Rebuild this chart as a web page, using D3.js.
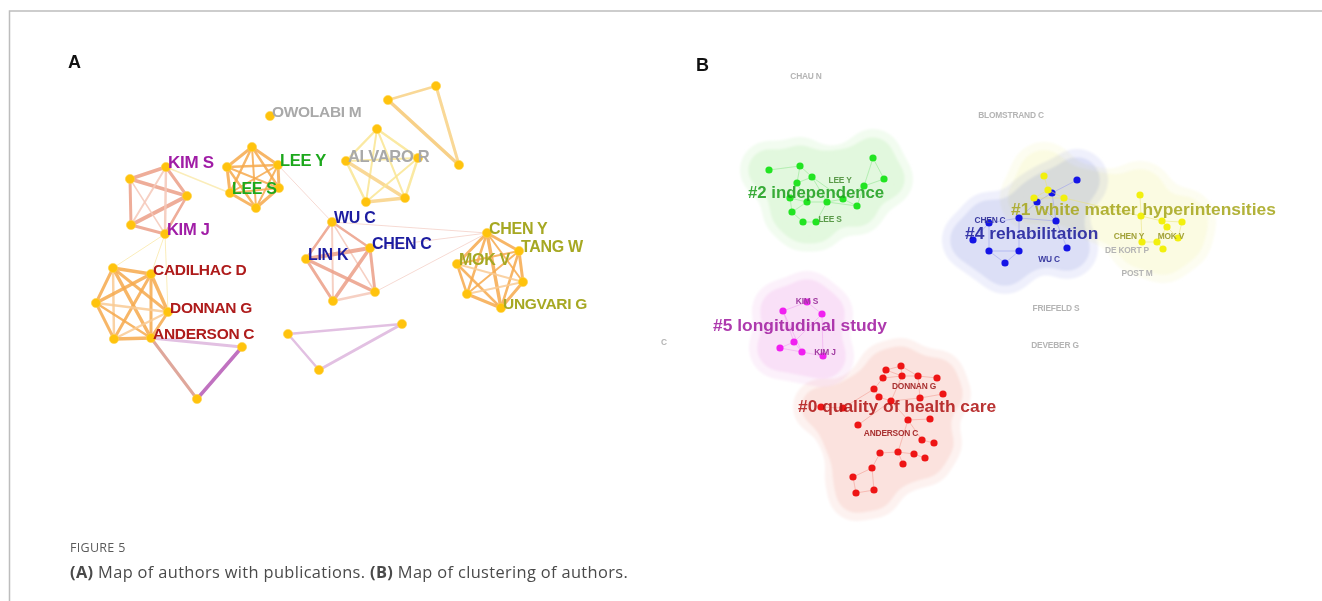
<!DOCTYPE html>
<html>
<head>
<meta charset="utf-8">
<script src="https://cdn.jsdelivr.net/npm/d3@7"></script>
<style>
  html, body { margin: 0; padding: 0; background: #fff; }
  svg { display: block; }
</style>
</head>
<body>
<svg id="chart" width="1322" height="601"></svg>
<script>
// ---------- Panel A: co-authorship network ----------
// node: [id, layoutX, layoutY, label, labelColorKey, fontSize]
const nodesA = [
  ["k1", 86, 87, "KIM S", "purple", 17], ["k2", 50, 99], ["k3", 107, 116], ["k4", 51, 145],
  ["k5", 85, 154, "KIM J", "purple", 16.5],
  ["l1", 172, 67], ["l2", 147, 87], ["l3", 198, 85, "LEE Y", "green", 16.5],
  ["l4", 150, 113, "LEE S", "green", 16], ["l5", 199, 108], ["l6", 176, 128],
  ["o1", 190, 36, "OWOLABI M", "gray", 15.5],
  ["a1", 297, 49], ["a2", 266, 81, "ALVARO R", "gray", 16.5], ["a3", 338, 78],
  ["a4", 286, 122], ["a5", 325, 118],
  ["t1", 308, 20], ["t2", 356, 6], ["t3", 379, 85],
  ["w1", 252, 142, "WU C", "blue", 16], ["w2", 290, 168, "CHEN C", "blue", 16],
  ["w3", 226, 179, "LIN K", "blue", 16], ["w4", 295, 212], ["w5", 253, 221],
  ["c1", 407, 153, "CHEN Y", "olive", 16], ["c2", 439, 171, "TANG W", "olive", 16],
  ["c3", 377, 184, "MOK V", "olive", 16], ["c4", 443, 202], ["c5", 387, 214],
  ["c6", 421, 228, "UNGVARI G", "olive", 15.5],
  ["d1", 33, 188], ["d2", 71, 194, "CADILHAC D", "red", 15.5], ["d3", 16, 223],
  ["d4", 88, 232, "DONNAN G", "red", 15.5], ["d5", 34, 259],
  ["d6", 71, 258, "ANDERSON C", "red", 15.5],
  ["p1", 162, 267], ["p2", 117, 319],
  ["q1", 208, 254], ["q2", 322, 244], ["q3", 239, 290]
];

// edge: [source, target, width, colorKey]
const edgesA = [
  ["k1","k2",3.5,"S"],["k1","k3",3,"S"],["k2","k3",3.5,"S"],["k2","k4",3,"S"],["k4","k3",4,"S"],
  ["k4","k5",3,"S"],["k3","k5",2.5,"S"],["k1","k5",2.5,"SL"],["k1","k4",2,"SL"],["k2","k5",1.5,"SL"],
  ["l1","l2",3,"O"],["l1","l3",3,"O"],["l1","l4",2.5,"O"],["l1","l5",2.5,"O"],["l1","l6",2,"O"],
  ["l2","l3",2.5,"O"],["l2","l4",3,"O"],["l2","l5",2,"O"],["l2","l6",2.5,"O"],["l3","l4",2,"O"],
  ["l3","l5",3,"O"],["l3","l6",2,"O"],["l4","l5",2,"O"],["l4","l6",3,"O"],["l5","l6",3,"O"],
  ["a1","a2",2.5,"Y"],["a1","a3",2.5,"Y"],["a1","a4",2,"Y"],["a1","a5",2,"Y"],["a2","a3",2,"Y"],
  ["a2","a4",2.5,"Y"],["a2","a5",3.5,"T"],["a3","a4",2,"Y"],["a3","a5",2.5,"Y"],["a4","a5",3.5,"T"],
  ["t1","t2",2.5,"T"],["t2","t3",3,"T"],["t1","t3",3.5,"TD"],
  ["w1","w2",2.5,"S"],["w1","w3",2.5,"S"],["w1","w4",1.5,"SL"],["w1","w5",2,"SL"],["w2","w3",4,"S"],
  ["w2","w4",3,"S"],["w2","w5",3.5,"S"],["w3","w4",3.5,"S"],["w3","w5",3,"S"],["w4","w5",2.5,"SL"],
  ["c1","c2",3,"O"],["c1","c3",3,"O"],["c1","c4",2,"O"],["c1","c5",2.5,"O"],["c1","c6",3.5,"O"],
  ["c2","c3",2,"O"],["c2","c4",3,"O"],["c2","c5",2,"O"],["c2","c6",2.5,"O"],["c3","c4",2,"OL"],
  ["c3","c5",2.5,"O"],["c3","c6",2.5,"O"],["c4","c5",2,"OL"],["c4","c6",3,"O"],["c5","c6",3,"O"],
  ["d1","d2",3.5,"O"],["d1","d3",3,"O"],["d1","d4",3,"O"],["d1","d5",2.5,"OL"],["d1","d6",3.5,"O"],
  ["d2","d3",3.5,"O"],["d2","d4",3.5,"O"],["d2","d5",3,"O"],["d2","d6",3,"O"],["d3","d4",2.5,"OL"],
  ["d3","d5",3,"O"],["d3","d6",2.5,"O"],["d4","d5",2.5,"OL"],["d4","d6",3,"O"],["d5","d6",3.5,"O"],
  ["d6","p1",3,"PL"],["d6","p2",3,"B"],["p1","p2",3.5,"P"],
  ["q1","q2",2.5,"PL"],["q1","q3",2.5,"PL"],["q3","q2",3,"PL"],
  ["l3","w1",1,"PK"],["w1","c1",1,"PK"],["w2","c1",1,"PK"],["w4","c1",1,"PK"],
  ["k1","l4",1.5,"YT"],["k5","d1",1,"YT"],["k5","d2",1,"YT"],["k5","d4",1,"YT"]
];

const edgeColors = {
  S: "#ec9f88", SL: "#f5c8b9", O: "#f6aa4e", OL: "#f9cb94", Y: "#fae693", T: "#f8d285",
  TD: "#f6c874", P: "#b65ab6", PL: "#ddb6dd", B: "#da988a", PK: "#f5d4cc", YT: "#faeaae"
};
const labelColors = {
  purple: "#a01ea6", green: "#1ea81e", gray: "#a9a9a9", blue: "#1c1ca0",
  olive: "#a6a824", red: "#ae1a1a"
};

// ---------- Panel B: cluster map ----------
const greenNodes = [[129,130],[160,126],[172,137],[157,143],[233,118],[244,139],[224,146],[203,159],
  [187,162],[167,162],[150,158],[217,166],[152,172],[163,182],[176,182]];
const greenEdges = [[0,1],[1,2],[2,3],[3,10],[4,5],[4,6],[5,6],[6,7],[7,8],[8,9],[9,10],[2,8],[2,7],
  [3,9],[9,12],[12,13],[13,14],[14,8],[11,7],[11,6],[10,12],[8,11],[1,3]];

const blueNodes = [[437,140],[412,153],[397,162],[379,178],[416,181],[349,183],[333,200],[349,211],
  [379,211],[365,223],[427,208]];
const blueEdges = [[0,1],[1,2],[2,3],[1,4],[3,5],[5,6],[5,7],[7,8],[7,9],[8,9],[3,8],[4,10],[3,4],[2,4]];

const yellowNodes = [[404,136],[408,150],[424,158],[394,158],[500,155],[501,176],[522,181],[542,182],
  [527,187],[517,202],[502,202],[523,209],[538,198]];
const yellowEdges = [[0,1],[1,2],[1,3],[2,3],[4,5],[5,6],[6,7],[6,8],[8,9],[9,10],[9,11],[8,12],[5,10],
  [7,12],[2,5]];

const magentaNodes = [[167,262],[143,271],[182,274],[154,302],[140,308],[162,312],[183,316]];
const magentaEdges = [[0,1],[0,2],[1,3],[2,3],[3,4],[3,5],[5,6],[2,6],[1,5],[4,5]];

const redNodes = [[246,330],[261,326],[243,338],[262,336],[278,336],[297,338],[234,349],[239,357],
  [251,361],[280,358],[303,354],[268,380],[290,379],[218,385],[282,400],[294,403],[240,413],[258,412],
  [274,414],[285,418],[263,424],[232,428],[213,437],[216,453],[234,450],[181,367],[203,368]];
const redEdges = [[0,1],[0,2],[1,3],[2,3],[3,4],[4,5],[2,6],[6,7],[7,8],[8,9],[9,10],[4,9],[8,11],
  [11,12],[11,14],[14,15],[11,17],[17,16],[17,18],[18,19],[17,20],[16,21],[21,22],[22,23],[23,24],
  [21,24],[6,26],[26,25],[13,8],[3,8],[1,4],[0,3]];

const clustersB = [
  { name: "#0 quality of health care", nodes: redNodes, edges: redEdges, node: "#ee1515", pad: 21,
    hull: "#fbe2de", halo: "#fdf2f0", edge: "#f29a90", text: "#b01515", lx: 158, ly: 372, fs: 17.4 },
  { name: "#2 independence", nodes: greenNodes, edges: greenEdges, node: "#22e422", pad: 22,
    hull: "#e2f8de", halo: "#f2fcf0", edge: "#8ee68e", text: "#20a020", lx: 108, ly: 158, fs: 16.8 },
  { name: "#5 longitudinal study", nodes: magentaNodes, edges: magentaEdges, node: "#f020f0", pad: 24,
    hull: "#f9e0f7", halo: "#fcf1fb", edge: "#f0a0f0", text: "#a21ea2", lx: 73, ly: 291, fs: 17.4 },
  { name: "#4 rehabilitation", nodes: blueNodes, edges: blueEdges, node: "#1515e6", pad: 24,
    hull: "#dcdff6", halo: "#eff0fc", edge: "#9a9ef0", text: "#1c1c9c", lx: 325, ly: 199, fs: 17.4 },
  { name: "#1 white matter hyperintensities", nodes: yellowNodes, edges: yellowEdges, node: "#f2f00e", pad: 27,
    hull: "#fbfbe2", halo: "#fdfdf1", edge: "#e8e27a", text: "#a8a820", lx: 371, ly: 175, fs: 17.4 }
];

// small author labels: [text, layoutX (centre), layoutY (baseline), colour]
const authorLabelsB = [
  ["CHAU N", 166, 39, "#b4b4b4"], ["BLOMSTRAND C", 371, 78, "#b4b4b4"],
  ["FRIEFELD S", 416, 271, "#b4b4b4"], ["DEVEBER G", 415, 308, "#b4b4b4"],
  ["C", 24, 305, "#b4b4b4"], ["DE KORT P", 487, 213, "#b4b4b4"], ["POST M", 497, 236, "#b4b4b4"],
  ["LEE Y", 200, 143, "#5a9a4a"], ["LEE S", 190, 182, "#5a9a4a"],
  ["CHEN C", 350, 183, "#3a3aa0"], ["WU C", 409, 222, "#3a3aa0"],
  ["CHEN Y", 489, 199, "#a2a23a"], ["MOK V", 531, 199, "#a2a23a"],
  ["KIM S", 167, 264, "#a03aa0"], ["KIM J", 185, 315, "#a03aa0"],
  ["DONNAN G", 274, 349, "#a83030"], ["ANDERSON C", 251, 396, "#a83030"]
];

const panelLetters = [["A", 68, 68], ["B", 696, 71]];
const captionTitle = "FIGURE 5";
const captionParts = [["(A)", true], [" Map of authors with publications. ", false], ["(B)", true],
  [" Map of clustering of authors.", false]];

// ---------- drawing ----------
const svg = d3.select("#chart");
const defs = svg.append("defs");
// "goo" filter: blur then sharpen alpha so the member discs merge into smooth blobs
const goo = defs.append("filter").attr("id", "goo").attr("x", "-30%").attr("y", "-30%")
  .attr("width", "160%").attr("height", "160%");
goo.append("feGaussianBlur").attr("in", "SourceGraphic").attr("stdDeviation", 8).attr("result", "b");
goo.append("feColorMatrix").attr("in", "b").attr("type", "matrix")
  .attr("values", "1 0 0 0 0  0 1 0 0 0  0 0 1 0 0  0 0 0 14 -6.5").attr("result", "g");
goo.append("feGaussianBlur").attr("in", "g").attr("stdDeviation", 1.3);
defs.append("filter").attr("id", "softText").append("feGaussianBlur").attr("stdDeviation", 0.45);
defs.append("filter").attr("id", "softA").append("feGaussianBlur").attr("stdDeviation", 0.3);

svg.append("rect").attr("width", 1322).attr("height", 601).attr("fill", "#fff");

// page frame
svg.append("path").attr("d", d3.line()([[9.5, 601], [9.5, 11], [1322, 11]]))
  .attr("fill", "none").attr("stroke", "#bdbdbd").attr("stroke-width", 1.5);

// Panel A scales (layout units -> pixels)
const xA = d3.scaleLinear().domain([0, 460]).range([80, 540]);
const yA = d3.scaleLinear().domain([0, 320]).range([80, 400]);
const nodeById = new Map(nodesA.map(n => [n[0], n]));

const gA = svg.append("g").attr("filter", "url(#softA)");
gA.append("g").selectAll("line").data(edgesA).join("line")
  .attr("x1", d => xA(nodeById.get(d[0])[1])).attr("y1", d => yA(nodeById.get(d[0])[2]))
  .attr("x2", d => xA(nodeById.get(d[1])[1])).attr("y2", d => yA(nodeById.get(d[1])[2]))
  .attr("stroke", d => edgeColors[d[3]]).attr("stroke-width", d => d[2])
  .attr("stroke-linecap", "round").attr("opacity", 0.85);

gA.append("g").selectAll("circle").data(nodesA).join("circle")
  .attr("cx", d => xA(d[1])).attr("cy", d => yA(d[2])).attr("r", 4.6)
  .attr("fill", "#ffc30f").attr("stroke", "#ffd34a").attr("stroke-width", 0.6);

gA.append("g").selectAll("text").data(nodesA.filter(n => n[3])).join("text")
  .attr("x", d => xA(d[1]) + 2).attr("y", d => yA(d[2]) + 1)
  .attr("font-family", "Liberation Sans, Arial, sans-serif").attr("font-weight", "bold")
  .attr("font-size", d => d[5]).attr("fill", d => labelColors[d[4]])
  .attr("letter-spacing", -0.3).text(d => d[3]);

// Panel B scales
const xB = d3.scaleLinear().domain([0, 640]).range([640, 1280]);
const yB = d3.scaleLinear().domain([0, 480]).range([40, 520]);

// cluster areas: member discs, thick links and the hull body merged into a blob,
// with a paler halo; each cluster is multiplied so overlaps darken slightly
const hullLayer = svg.append("g");
clustersB.forEach(c => {
  const g = hullLayer.append("g").style("mix-blend-mode", "multiply");
  const pts = c.nodes.map(p => [xB(p[0]), yB(p[1])]);
  const hullPath = d3.line().curve(d3.curveLinearClosed)(d3.polygonHull(pts));
  [[c.pad + 8, c.halo], [c.pad, c.hull]].forEach(([r, col]) => {
    const blob = g.append("g").attr("filter", "url(#goo)");
    blob.append("path").attr("d", hullPath)
      .attr("fill", col).attr("stroke", col).attr("stroke-width", r * 1.1)
      .attr("stroke-linejoin", "round");
    blob.selectAll("line").data(c.edges).join("line")
      .attr("x1", e => pts[e[0]][0]).attr("y1", e => pts[e[0]][1])
      .attr("x2", e => pts[e[1]][0]).attr("y2", e => pts[e[1]][1])
      .attr("stroke", col).attr("stroke-width", r * 1.5).attr("stroke-linecap", "round");
    blob.selectAll("circle").data(pts).join("circle")
      .attr("cx", p => p[0]).attr("cy", p => p[1]).attr("r", r).attr("fill", col);
  });
});

// cluster links and members
const netB = svg.append("g");
clustersB.forEach(c => {
  netB.append("g").selectAll("line").data(c.edges).join("line")
    .attr("x1", e => xB(c.nodes[e[0]][0])).attr("y1", e => yB(c.nodes[e[0]][1]))
    .attr("x2", e => xB(c.nodes[e[1]][0])).attr("y2", e => yB(c.nodes[e[1]][1]))
    .attr("stroke", c.edge).attr("stroke-width", 0.8).attr("opacity", 0.7);
  netB.append("g").selectAll("circle").data(c.nodes).join("circle")
    .attr("cx", p => xB(p[0])).attr("cy", p => yB(p[1])).attr("r", 3.6)
    .attr("fill", c.node);
});

// small author labels
svg.append("g").attr("filter", "url(#softText)").selectAll("text").data(authorLabelsB).join("text")
  .attr("x", d => xB(d[1])).attr("y", d => yB(d[2]))
  .attr("text-anchor", "middle").attr("font-family", "Liberation Sans, Arial, sans-serif")
  .attr("font-weight", "bold").attr("font-size", 8.4).attr("letter-spacing", -0.2)
  .attr("fill", d => d[3]).text(d => d[0]);

// cluster titles
svg.append("g").attr("filter", "url(#softA)").selectAll("text").data(clustersB).join("text")
  .attr("x", c => xB(c.lx)).attr("y", c => yB(c.ly))
  .attr("font-family", "Liberation Sans, Arial, sans-serif").attr("font-weight", "bold")
  .attr("font-size", c => c.fs).attr("fill", c => c.text).attr("opacity", 0.88)
  .text(c => c.name);

// panel letters
svg.append("g").selectAll("text").data(panelLetters).join("text")
  .attr("x", d => d[1]).attr("y", d => d[2])
  .attr("font-family", "Liberation Sans, Arial, sans-serif").attr("font-weight", "bold")
  .attr("font-size", 18).attr("fill", "#111").text(d => d[0]);

// caption
svg.append("text").attr("x", 70).attr("y", 552)
  .attr("font-family", "Open Sans, sans-serif").attr("font-size", 12.5)
  .attr("fill", "#5a5a5a").attr("letter-spacing", 0.3).text(captionTitle);
const cap = svg.append("text").attr("x", 70).attr("y", 578)
  .attr("font-family", "Open Sans, sans-serif").attr("font-size", 16.4)
  .attr("letter-spacing", 0.35).attr("fill", "#4a4a4a");
cap.selectAll("tspan").data(captionParts).join("tspan")
  .attr("font-weight", d => d[1] ? "bold" : "normal").text(d => d[0]);
</script>
</body>
</html>
